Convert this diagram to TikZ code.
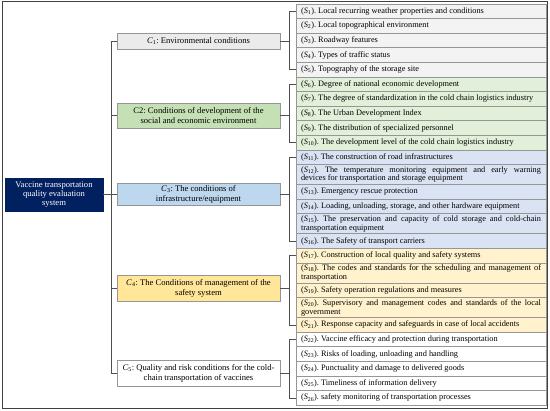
\documentclass[tikz,border=0pt]{standalone}
\usepackage{fontspec}
\setmainfont{Liberation Serif}
\frenchspacing
\definecolor{navy}{RGB}{0,32,96}
\definecolor{boxline}{RGB}{150,150,150}
\definecolor{linkgray}{RGB}{80,80,80}
\definecolor{framegray}{RGB}{64,64,64}
\definecolor{envcat}{RGB}{235,235,235}
\definecolor{envrow}{RGB}{243,243,243}
\definecolor{soccat}{RGB}{197,224,180}
\definecolor{socrow}{RGB}{226,240,217}
\definecolor{infcat}{RGB}{189,215,238}
\definecolor{infrow}{RGB}{218,227,243}
\definecolor{safcat}{RGB}{255,230,153}
\definecolor{safrow}{RGB}{255,242,204}
\newcommand{\Sub}[1]{(\textit{S}\textsubscript{#1}).}
\newcommand{\Cat}[1]{\textit{C}\textsubscript{#1}}
\begin{document}
\begin{tikzpicture}[x=1pt,y=-1pt,
    rootbox/.style={draw=navy, fill=navy, text=white, minimum width=98pt, minimum height=33pt,
      align=center, inner sep=1pt, font=\fontsize{8.6}{9}\selectfont},
    catbox/.style={draw=boxline, line width=0.7pt, minimum width=163pt, align=center,
      inner sep=1pt, font=\fontsize{8.6}{9.5}\selectfont},
    rowbox/.style={draw=boxline, line width=0.7pt, text width=240pt, inner xsep=5pt, inner ysep=0.5pt,
      align=justify, font=\fontsize{8.3}{8.8}\selectfont},
    oneline/.style={rowbox, minimum height=14.6pt},
    twoline/.style={rowbox, minimum height=20pt},
    link/.style={draw=linkgray, line width=0.6pt}]
  \useasboundingbox (0,0) rectangle (550,411);
  \draw[framegray, line width=0.9pt] (2.5,1.5) rectangle (547.5,408.5);

  % root and criteria
  \node[rootbox] (root) at (54,194.5) {Vaccine transportation\\quality evaluation\\system};
  \node[catbox, fill=envcat, minimum height=16pt] (c1) at (198.5,41) {\Cat{1}: Environmental conditions};
  \node[catbox, fill=soccat, minimum height=25pt] (c2) at (198.5,115.5) {C2: Conditions of development of the\\social and economic environment};
  \node[catbox, fill=infcat, minimum height=22pt] (c3) at (198.5,194.5) {\Cat{3}: The conditions of\\infrastructure/equipment};
  \node[catbox, fill=safcat, minimum height=26pt] (c4) at (198.5,288.5) {\Cat{4}: The Conditions of management of the\\safety system};
  \node[catbox, fill=white, minimum height=26pt] (c5) at (198.5,373.5) {\Cat{5}: Quality and risk conditions for the cold-\\chain transportation of vaccines};

  % sub-criteria
  \node[oneline, fill=envrow] (s1) at (421,11.3) {\Sub{1} Local recurring weather properties and conditions};
  \node[oneline, fill=envrow] (s2) at (421,25.9) {\Sub{2} Local topographical environment};
  \node[oneline, fill=envrow] (s3) at (421,40.5) {\Sub{3} Roadway features};
  \node[oneline, fill=envrow] (s4) at (421,55.1) {\Sub{4} Types of traffic status};
  \node[oneline, fill=envrow] (s5) at (421,69.7) {\Sub{5} Topography of the storage site};

  \node[oneline, fill=socrow] (s6) at (421,84.3) {\Sub{6} Degree of national economic development};
  \node[oneline, fill=socrow] (s7) at (421,98.9) {\Sub{7} The degree of standardization in the cold chain logistics industry};
  \node[oneline, fill=socrow] (s8) at (421,113.5) {\Sub{8} The Urban Development Index};
  \node[oneline, fill=socrow] (s9) at (421,128.1) {\Sub{9} The distribution of specialized personnel};
  \node[oneline, fill=socrow] (s10) at (421,142.7) {\Sub{10} The development level of the cold chain logistics industry};

  \node[oneline, fill=infrow] (s11) at (421,157.3) {\Sub{11} The construction of road infrastructures};
  \node[twoline, fill=infrow] (s12) at (421,174.6) {\Sub{12} The temperature monitoring equipment and early warning\linebreak devices for transportation and storage equipment};
  \node[oneline, fill=infrow] (s13) at (421,191.9) {\Sub{13} Emergency rescue protection};
  \node[oneline, fill=infrow] (s14) at (421,206.5) {\Sub{14} Loading, unloading, storage, and other hardware equipment};
  \node[twoline, fill=infrow] (s15) at (421,223.8) {\Sub{15} The preservation and capacity of cold storage and cold-chain\linebreak transportation equipment};
  \node[oneline, fill=infrow] (s16) at (421,241.1) {\Sub{16} The Safety of transport carriers};

  \node[oneline, fill=safrow] (s17) at (421,255.7) {\Sub{17} Construction of local quality and safety systems};
  \node[twoline, fill=safrow] (s18) at (421,273.0) {\Sub{18} The codes and standards for the scheduling and management of\linebreak transportation};
  \node[oneline, fill=safrow] (s19) at (421,290.3) {\Sub{19} Safety operation regulations and measures};
  \node[twoline, fill=safrow] (s20) at (421,307.6) {\Sub{20} Supervisory and management codes and standards of the local\linebreak government};
  \node[oneline, fill=safrow] (s21) at (421,324.9) {\Sub{21} Response capacity and safeguards in case of local accidents};

  \node[oneline, fill=white] (s22) at (421,339.5) {\Sub{22} Vaccine efficacy and protection during transportation};
  \node[oneline, fill=white] (s23) at (421,354.1) {\Sub{23} Risks of loading, unloading and handling};
  \node[oneline, fill=white] (s24) at (421,368.7) {\Sub{24} Punctuality and damage to delivered goods};
  \node[oneline, fill=white] (s25) at (421,383.3) {\Sub{25} Timeliness of information delivery};
  \node[oneline, fill=white] (s26) at (421,397.9) {\Sub{26} safety monitoring of transportation processes};

  % trunk from root to criteria
  \coordinate (trunk) at (111,194.5);
  \draw[link] (root) -- (c3);
  \draw[link] (c1.west) -| (trunk);
  \draw[link] (c2.west) -| (trunk);
  \draw[link] (c4.west) -| (trunk);
  \draw[link] (c5.west) -| (trunk);

  % brackets from criteria to sub-criteria
  \coordinate (g1) at ([xshift=9pt]c1.east);
  \coordinate (g2) at ([xshift=9pt]c2.east);
  \coordinate (g3) at ([xshift=9pt]c3.east);
  \coordinate (g4) at ([xshift=9pt]c4.east);
  \coordinate (g5) at ([xshift=9pt]c5.east);
  \draw[link] (c1) -- (g1);
  \draw[link] (s1.west) -| (g1) |- (s5.west);
  \draw[link] (c2) -- (g2);
  \draw[link] (s6.west) -| (g2) |- (s10.west);
  \draw[link] (c3) -- (g3);
  \draw[link] (s11.west) -| (g3) |- (s16.west);
  \draw[link] (c4) -- (g4);
  \draw[link] (s17.west) -| (g4) |- (s21.west);
  \draw[link] (c5) -- (g5);
  \draw[link] (s22.west) -| (g5) |- (s26.west);
\end{tikzpicture}
\end{document}
